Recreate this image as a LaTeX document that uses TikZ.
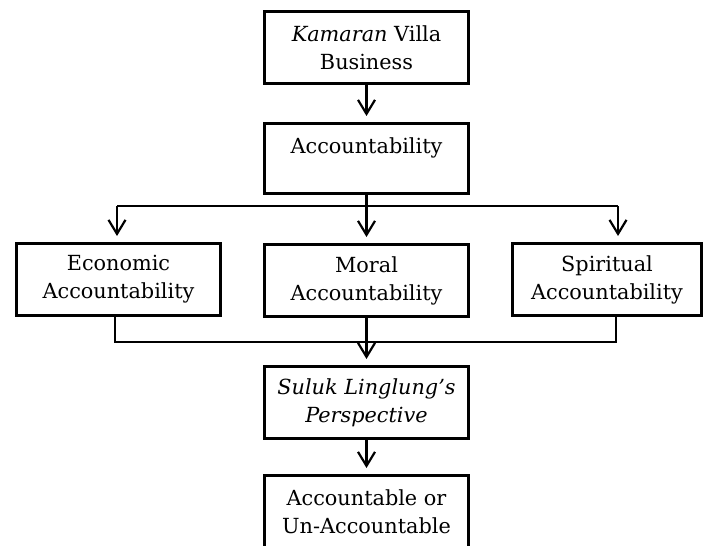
\documentclass[tikz,border=0pt]{standalone}
\usepackage{fontspec}
\setmainfont{DejaVu Serif}
\usetikzlibrary{arrows.meta,calc}
\begin{document}
\begin{tikzpicture}[x=0.5pt,y=-0.5pt,
  box/.style={draw,line width=1.5pt,minimum width=102pt,minimum height=36pt,align=center,inner sep=0pt,
    font=\fontsize{10.4}{14}\selectfont},
  arr/.style={line width=1.1pt,-{Straight Barb[length=7pt,width=8.5pt,line width=1.1pt]},shorten >=3pt},
  thinline/.style={line width=0.6pt}]
\useasboundingbox (0,0) rectangle (704,545);
\clip (0,0) rectangle (704,545);
\node[box] (b1) at (366.5,48) {\textit{Kamaran} Villa\\Business};
\node[box,minimum height=35pt] (b2) at (366.5,158.5) {Accountability\\[-5pt]\strut};
\node[box] (eco) at (118.5,279.5) {Economic\\Accountability};
\node[box] (mor) at (366.5,280.5) {Moral\\Accountability};
\node[box,minimum width=94.5pt] (spi) at (607,279.5) {Spiritual\\Accountability};
\node[box] (sul) at (366.5,402.5) {\textit{Suluk Linglung’s}\\\textit{Perspective}};
\node[box] (fin) at (366.5,511.5) {Accountable or\\Un-Accountable};
\coordinate (top) at (0,206);
\coordinate (bot) at (0,342);
\coordinate (ecoin) at ($(eco.north)+(-1.5,0)$);
\coordinate (spiin) at ($(spi.north)+(11,0)$);
\coordinate (ecoout) at ($(eco.south)+(-3.5,0)$);
\coordinate (spiout) at ($(spi.south)+(9,0)$);
\draw[arr] (b1) -- (b2);
\draw[thinline] (ecoin |- top) -- (spiin |- top);
\draw[arr] (ecoin |- top) -- (ecoin);
\draw[arr] (spiin |- top) -- (spiin);
\draw[arr] (b2.south) -- (mor.north);
\draw[thinline] (ecoout) -- (ecoout |- bot) -- (spiout |- bot) -- (spiout);
\draw[arr] (mor.south) -- (sul.north);
\draw[arr] (sul) -- (fin);
\end{tikzpicture}
\end{document}
